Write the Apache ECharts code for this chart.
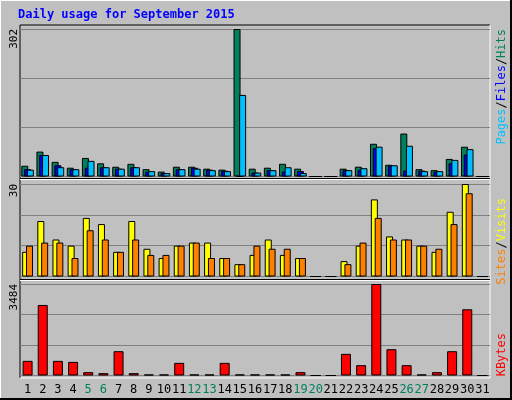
<!DOCTYPE html>
<html>
<head>
<meta charset="utf-8">
<script src="https://cdn.jsdelivr.net/npm/echarts@6/dist/echarts.min.js"></script>
<style>
  html, body { margin: 0; padding: 0; background: #c0c0c0; }
  #main { width: 512px; height: 400px; }
</style>
</head>
<body>
<div id="main"></div>
<script>
// data
const days = ['1','2','3','4','5','6','7','8','9','10','11','12','13','14','15','16','17','18','19','20','21','22','23','24','25','26','27','28','29','30','31']
const weekends = ['5','6','12','13','19','20','26','27']
const hits = [22,51,30,18,38,27,20,26,15,10,20,20,16,14,302,16,18,26,16,0,0,16,20,67,24,88,15,13,36,61,0]
const files = [15,44,23,15,18,19,16,19,10,7,15,18,14,12,1,8,13,10,11,0,0,13,14,58,22,12,12,10,27,45,0]
const pages = [14,44,19,15,32,19,16,19,11,7,15,16,13,11,167,8,13,19,7,0,0,13,17,61,23,63,11,11,34,56,0]
const visits = [8,18,12,10,19,17,8,18,9,6,10,11,11,6,4,7,12,7,6,0,0,5,10,25,13,12,10,8,21,30,0]
const sites = [10,11,11,6,15,12,8,12,7,7,10,11,6,6,4,10,9,9,6,0,0,4,11,19,12,12,10,9,17,27,0]
const kbytes = [557,2686,557,519,127,89,925,89,40,40,481,40,40,481,40,40,40,40,127,0,0,824,393,3484,1001,393,40,127,925,2521,0]
const maxLabels = [302, 30, 3484]

const font = 'DejaVu Sans Mono'
const grids = [
  { left: 20, width: 470, top: 29, height: 147.5 },
  { left: 20, width: 470, top: 184, height: 92.5 },
  { left: 20, width: 470, top: 284, height: 91.5 }
]

function xAxis (i, showLabels) {
  return {
    type: 'category', gridIndex: i, data: days,
    axisLine: { show: false }, axisTick: { show: false },
    axisLabel: {
      show: showLabels, interval: 0, margin: 8,
      fontFamily: font, fontSize: 12,
      color: (v) => weekends.includes(v) ? '#00805c' : '#000'
    }
  }
}
function yAxis (i, max) {
  return {
    type: 'value', gridIndex: i, min: 0, max: max, interval: max / 3,
    axisLabel: { show: false }, axisLine: { show: false }, axisTick: { show: false },
    splitLine: { lineStyle: { color: '#808080', width: 1 } }
  }
}
function bars (name, data, color, i, width, gap) {
  return {
    name: name, type: 'bar', data: data, xAxisIndex: i, yAxisIndex: i,
    barWidth: width, barGap: gap, silent: true, animation: false,
    itemStyle: { color: color, borderColor: '#000', borderWidth: 1 }
  }
}

function sideLabel (y, parts) {
  return {
    type: 'text', x: 508, y: y, rotation: Math.PI / 2,
    style: {
      text: parts.map((p, k) => '{c' + k + '|' + p[0] + '}').join(''),
      rich: Object.fromEntries(parts.map((p, k) => ['c' + k, { fill: p[1], fontFamily: font, fontSize: 12 }])),
      align: 'right', verticalAlign: 'bottom'
    }
  }
}

let option = {
  backgroundColor: '#c0c0c0',
  grid: grids,
  xAxis: [xAxis(0, false), xAxis(1, false), xAxis(2, true)],
  yAxis: [yAxis(0, maxLabels[0]), yAxis(1, maxLabels[1]), yAxis(2, maxLabels[2])],
  series: [
    bars('Hits', hits, '#00805c', 0, 7, '-60%'),
    bars('Files', files, '#0000ff', 0, 7, '-60%'),
    bars('Pages', pages, '#00c0ff', 0, 7, '-60%'),
    bars('Visits', visits, '#ffff00', 1, 7, '-45%'),
    bars('Sites', sites, '#ff8000', 1, 7, '-45%'),
    bars('KBytes', kbytes, '#ff0000', 2, 10, '0%')
  ],
  graphic: [
    // outer bevel
    { type: 'rect', shape: { x: 0.5, y: 0.5, width: 510, height: 398 }, style: { fill: null, stroke: '#ffffff', lineWidth: 1 } },
    { type: 'polyline', shape: { points: [[511, 0], [511, 399], [0, 399]] }, style: { stroke: '#000', lineWidth: 2 } },
    // panel frames
    { type: 'polyline', shape: { points: [[20, 378], [20, 25], [490, 25]] }, style: { stroke: '#000', lineWidth: 1 } },
    { type: 'polyline', shape: { points: [[490, 25], [490, 378], [20, 378]] }, style: { stroke: '#fff', lineWidth: 1 } },
    { type: 'line', shape: { x1: 20, y1: 178.5, x2: 490, y2: 178.5 }, style: { stroke: '#000', lineWidth: 1 } },
    { type: 'line', shape: { x1: 20, y1: 179.5, x2: 490, y2: 179.5 }, style: { stroke: '#fff', lineWidth: 1 } },
    { type: 'line', shape: { x1: 20, y1: 279.5, x2: 490, y2: 279.5 }, style: { stroke: '#000', lineWidth: 1 } },
    { type: 'line', shape: { x1: 20, y1: 280.5, x2: 490, y2: 280.5 }, style: { stroke: '#fff', lineWidth: 1 } },
    { type: 'text', x: 18, y: 9, style: { text: 'Daily usage for September 2015', fill: '#0000ff', fontFamily: font, fontSize: 12, fontWeight: 'bold' } },
    { type: 'text', x: 9, y: 29, rotation: Math.PI / 2, style: { text: String(maxLabels[0]), fill: '#000', fontFamily: font, fontSize: 11, align: 'right', verticalAlign: 'top' } },
    { type: 'text', x: 9, y: 184, rotation: Math.PI / 2, style: { text: String(maxLabels[1]), fill: '#000', fontFamily: font, fontSize: 11, align: 'right', verticalAlign: 'top' } },
    { type: 'text', x: 9, y: 284, rotation: Math.PI / 2, style: { text: String(maxLabels[2]), fill: '#000', fontFamily: font, fontSize: 11, align: 'right', verticalAlign: 'top' } },
    sideLabel(29, [['Pages', '#00c0ff'], ['/', '#000'], ['Files', '#0000ff'], ['/', '#000'], ['Hits', '#00805c']]),
    sideLabel(198, [['Sites', '#ff8000'], ['/', '#000'], ['Visits', '#ffff00']]),
    sideLabel(333, [['KBytes', '#ff0000']])
  ]
}
let myChart = echarts.init(document.getElementById('main'))
myChart.setOption(option)
</script>
</body>
</html>
